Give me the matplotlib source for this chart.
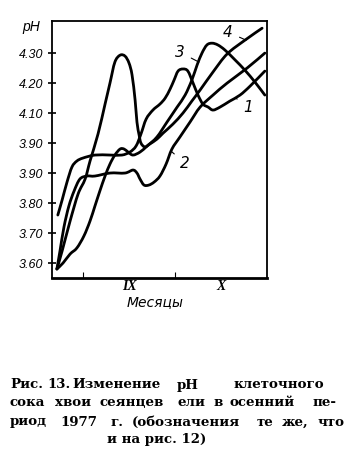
import matplotlib
matplotlib.use("Agg")
import matplotlib.pyplot as plt
from matplotlib.path import Path
from matplotlib.patches import PathPatch

# ---- data (days from 1 September; pH) ----
c1_day = [-8.2, -6.8, -5.2, -3.6, -2.0, 0.0, 3.9, 8.8, 12.7, 15.3, 17.3, 18.9, 20.6, 22.8, 25.1, 26.8, 28.4, 29.7, 31.0, 32.6, 34.2, 35.9, 37.5, 39.1, 40.8, 42.4, 44.7, 47.9, 51.2, 54.5, 59.3]
c1_ph  = [3.76, 3.81, 3.87, 3.92, 3.94, 3.95, 3.96, 3.96, 3.96, 3.97, 3.99, 4.03, 4.08, 4.11, 4.13, 4.15, 4.18, 4.21, 4.24, 4.247, 4.24, 4.20, 4.16, 4.13, 4.12, 4.11, 4.12, 4.14, 4.16, 4.19, 4.24]

c2_day = [-8.5, -7.5, -6.2, -4.6, -2.9, -1.0, 1.3, 3.9, 8.8, 13.7, 16.3, 17.6, 18.6, 19.9, 21.5, 23.2, 25.1, 27.1, 29.0, 31.6, 34.9, 38.2, 42.4, 47.0, 53.5, 59.3]
c2_ph  = [3.58, 3.64, 3.72, 3.79, 3.84, 3.88, 3.89, 3.89, 3.90, 3.90, 3.91, 3.90, 3.88, 3.86, 3.86, 3.87, 3.89, 3.93, 3.98, 4.02, 4.07, 4.12, 4.16, 4.20, 4.25, 4.30]

c3_day = [-8.5, -6.5, -4.2, -2.0, 0.3, 2.3, 3.9, 5.5, 7.2, 8.8, 10.4, 12.1, 13.4, 14.7, 16.3, 18.6, 20.9, 24.1, 27.4, 30.7, 33.3, 35.5, 37.2, 38.8, 40.4, 42.1, 44.0, 46.3, 49.6, 52.8, 56.1, 59.3]
c3_ph  = [3.58, 3.60, 3.63, 3.65, 3.69, 3.74, 3.79, 3.84, 3.89, 3.93, 3.96, 3.98, 3.98, 3.97, 3.96, 3.97, 3.99, 4.02, 4.07, 4.12, 4.16, 4.21, 4.26, 4.30, 4.327, 4.333, 4.327, 4.31, 4.277, 4.243, 4.203, 4.16]

c4_day = [-8.5, -6.8, -4.2, -1.6, 0.7, 2.3, 4.9, 7.2, 8.8, 10.4, 12.1, 13.7, 15.0, 16.0, 17.0, 17.6, 18.3, 18.9, 20.2, 21.8, 24.1, 26.1, 29.3, 32.6, 35.5, 38.2, 42.4, 47.0, 52.8, 58.4]
c4_ph  = [3.58, 3.64, 3.74, 3.83, 3.88, 3.94, 4.03, 4.13, 4.20, 4.27, 4.293, 4.29, 4.267, 4.227, 4.143, 4.07, 4.027, 4.00, 3.987, 3.997, 4.013, 4.033, 4.063, 4.10, 4.14, 4.177, 4.237, 4.297, 4.343, 4.383]

curve_labels = ["1", "2", "3", "4"]
ytick_vals = [3.60, 3.70, 3.80, 3.90, 4.00, 4.10, 4.20, 4.30]
ytick_text = ["3.60", "3.70", "3.80", "3.90", "3.90", "4.10", "4.20", "4.30"]
month_ticks = [0, 30]
month_names = ["IX", "X"]
month_centers = [15, 45]


def smooth_path(xs, ys):
    """Catmull-Rom curve through the given points, drawn as cubic Bezier segments."""
    pts = list(zip(xs, ys))
    verts = [pts[0]]
    codes = [Path.MOVETO]
    n = len(pts)
    for i in range(n - 1):
        p0 = pts[i - 1] if i > 0 else pts[i]
        p1 = pts[i]
        p2 = pts[i + 1]
        p3 = pts[i + 2] if i + 2 < n else pts[i + 1]
        c1 = (p1[0] + (p2[0] - p0[0]) / 6.0, p1[1] + (p2[1] - p0[1]) / 6.0)
        c2 = (p2[0] - (p3[0] - p1[0]) / 6.0, p2[1] - (p3[1] - p1[1]) / 6.0)
        verts += [c1, c2, p2]
        codes += [Path.CURVE4] * 3
    return Path(verts, codes)


fig = plt.figure(figsize=(3.56, 4.63), dpi=100)
fig.patch.set_facecolor("white")
ax = fig.add_axes([52/356, 185/463, 215/356, 257/463])

for d, p in [(c1_day, c1_ph), (c2_day, c2_ph), (c3_day, c3_ph), (c4_day, c4_ph)]:
    ax.add_patch(PathPatch(smooth_path(d, p), facecolor="none", edgecolor="black",
                           lw=2.0, joinstyle="round", capstyle="round"))

ax.set_xlim(-10.1, 60.0)
ax.set_ylim(3.55, 4.407)

ax.set_yticks(ytick_vals)
ax.set_yticklabels(ytick_text, fontsize=9, style="italic", family="Liberation Sans")
ax.tick_params(axis="y", direction="inout", length=6, width=1.2, pad=3)
ax.set_xticks(month_ticks)
ax.set_xticklabels([])
ax.tick_params(axis="x", direction="in", length=4, width=0.8)

for s in ax.spines.values():
    s.set_linewidth(1.3)
ax.spines["bottom"].set_linewidth(2.0)

for c, n in zip(month_centers, month_names):
    ax.text(c, -0.035, n, transform=ax.get_xaxis_transform(), ha="center", va="center",
            fontsize=10, family="Liberation Serif", style="italic", fontweight="bold")
ax.text(0.48, -0.095, "Месяцы", transform=ax.transAxes, ha="center", va="center",
        fontsize=10, style="italic", family="DejaVu Sans")
fig.text(31/356, 1 - 27/463, "pH", ha="center", va="center", fontsize=10, style="italic",
         family="Liberation Sans")

# curve number labels with leader lines
lab_pos = [(53.8, 4.117), (33.3, 3.933), (31.6, 4.303), (47.3, 4.37)]
lab_tip = [(49.6, 4.152), (28.7, 3.973), (37.8, 4.27), (53.2, 4.343)]
for t, (tx, ty), (px, py) in zip(curve_labels, lab_pos, lab_tip):
    ax.annotate(t, xy=(px, py), xytext=(tx, ty), ha="center", va="center", fontsize=11,
                style="italic", family="DejaVu Sans",
                arrowprops=dict(arrowstyle="-", color="black", lw=0.8, shrinkA=3, shrinkB=0))

# caption
cap_lines = [
    [("Рис.", 10), ("13.", 47), ("Изменение", 72), ("pH", 177), ("клеточного", 233)],
    [("сока", 10), ("хвои", 55), ("сеянцев", 100), ("ели", 177), ("в", 213), ("осенний", 230), ("пе-", 312)],
    [("риод", 10), ("1977", 60), ("г.", 110), ("(обозначения", 132), ("те", 257), ("же,", 282), ("что", 317)],
    [("и на рис. 12)", 107)],
]
cap_y = [385, 403, 422, 440]
for line, y in zip(cap_lines, cap_y):
    for w, x in line:
        fig.text(x/356, 1 - y/463, w, ha="left", va="center", fontsize=9.6,
                 family="DejaVu Serif", fontweight="bold")

fig.savefig("out.png", dpi=100, facecolor="white")
